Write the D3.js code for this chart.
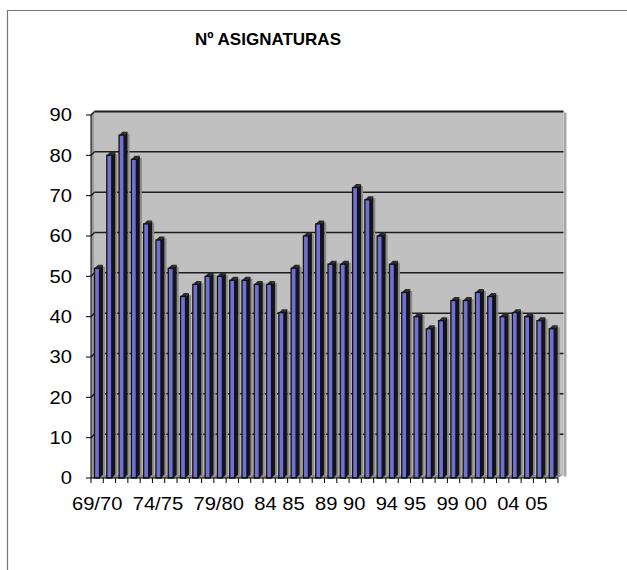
<!DOCTYPE html>
<html>
<head>
<meta charset="utf-8">
<script src="https://cdn.jsdelivr.net/npm/d3@7"></script>
<style>
  body { margin: 0; background: #fff; }
  text { font-family: "Liberation Sans", Arial, sans-serif; fill: #000; }
</style>
</head>
<body>
<div id="chart"></div>
<script>
var title = "Nº ASIGNATURAS";

var categories = [
    "69/70", "70/71", "71/72", "72/73", "73/74", "74/75", "75/76", "76/77",
    "77/78", "78/79", "79/80", "80/81", "81/82", "82/83", "83/84", "84 85",
    "85 86", "86 87", "87 88", "88 89", "89 90", "90 91", "91 92", "92 93",
    "93 94", "94 95", "95 96", "96 97", "97 98", "98 99", "99 00", "00 01",
    "01 02", "02 03", "03 04", "04 05", "05 06", "06 07"
];

var values = [
    52, 80, 85, 79, 63, 59, 52, 45, 48, 50, 50, 49, 49, 48, 48, 41,
    52, 60, 63, 53, 53, 72, 69, 60, 53, 46, 40, 37, 39, 44, 44, 46,
    45, 40, 41, 40, 39, 37
];

var yTicks = [0, 10, 20, 30, 40, 50, 60, 70, 80, 90];

var W = 627, H = 570;
var x0 = 91, x1 = 558;
var dx = 3.5, dy = -3.5;     // 3d depth offset
var stretch = 1.12;          // labels in the picture are a bit wide

var svg = d3.select("#chart").append("svg")
    .attr("width", W)
    .attr("height", H);

// frame of the chart object (left and top edges only visible)
svg.append("path")
    .attr("d", "M7.5,570 L7.5,10.5 L627,10.5")
    .attr("fill", "none")
    .attr("stroke", "#777")
    .attr("stroke-width", 1.2);

var x = d3.scaleBand()
    .domain(categories)
    .range([x0, x1])
    .padding(0);

var y = d3.scaleLinear()
    .domain([0, 90])
    .range([478, 115]);

var y0 = y(0), yTop = y(90);
var wallRight = x1 + dx + 2;

// walls
var walls = svg.append("g");
walls.append("rect")
    .attr("x", wallRight)
    .attr("y", yTop + dy + 1)
    .attr("width", 3)
    .attr("height", y0 - yTop + 1)
    .attr("fill", "#a8a8a8");
walls.append("rect")
    .attr("x", x0 + dx)
    .attr("y", yTop + dy)
    .attr("width", wallRight - x0 - dx)
    .attr("height", y0 - yTop)
    .attr("fill", "#c0c0c0");
walls.append("polygon")
    .attr("points", [[x0, yTop], [x0 + dx, yTop + dy], [x0 + dx, y0 + dy], [x0, y0]].join(" "))
    .attr("fill", "#9c9c9c");
walls.append("polygon")
    .attr("points", [[x0, y0], [x0 + dx, y0 + dy], [wallRight, y0 + dy], [x1, y0]].join(" "))
    .attr("fill", "#8c8c8c");

// gridlines
var grid = svg.append("g");
grid.selectAll("line.h")
    .data(yTicks.filter(function(d) { return d > 0; }))
    .enter().append("line")
    .attr("class", "h")
    .attr("x1", x0 + dx)
    .attr("x2", wallRight)
    .attr("y1", function(d) { return y(d) + dy; })
    .attr("y2", function(d) { return y(d) + dy; })
    .attr("stroke", "#1e1e1e")
    .attr("stroke-width", function(d) { return d == 90 ? 2.2 : 1.5; });
grid.selectAll("line.d")
    .data(yTicks.filter(function(d) { return d > 0; }))
    .enter().append("line")
    .attr("class", "d")
    .attr("x1", x0)
    .attr("x2", x0 + dx)
    .attr("y1", function(d) { return y(d); })
    .attr("y2", function(d) { return y(d) + dy; })
    .attr("stroke", "#1e1e1e")
    .attr("stroke-width", 1.5);

// bars
var bw = 5;
var bars = svg.append("g").selectAll("g")
    .data(values)
    .enter().append("g");

function bx(d, i) { return x(categories[i]) + 3.5; }

// soft shadow behind each bar
bars.append("rect")
    .attr("x", function(d, i) { return bx(d, i) + bw + dx; })
    .attr("y", function(d) { return y(d) + dy + 2; })
    .attr("width", 2)
    .attr("height", function(d) { return y0 - y(d) - 2; })
    .attr("fill", "#8a8a8a");
bars.append("polygon")
    .attr("points", function(d, i) {
        var l = bx(d, i) + bw, t = y(d);
        return [[l, t], [l + dx, t + dy], [l + dx, y0 + dy], [l, y0]].join(" ");
    })
    .attr("fill", "#151515");
bars.append("polygon")
    .attr("points", function(d, i) {
        var l = bx(d, i), t = y(d);
        return [[l, t], [l + dx, t + dy], [l + bw + dx, t + dy], [l + bw, t]].join(" ");
    })
    .attr("fill", "#2a2a2a");
bars.append("rect")
    .attr("x", bx)
    .attr("y", function(d) { return y(d); })
    .attr("width", bw)
    .attr("height", function(d) { return y0 - y(d); })
    .attr("fill", "#7070d4")
    .attr("stroke", "#111")
    .attr("stroke-width", 1.3);

// y axis
var yAxis = svg.append("g");
yAxis.append("line")
    .attr("x1", x0).attr("x2", x0)
    .attr("y1", yTop).attr("y2", y0)
    .attr("stroke", "#000");
yAxis.selectAll("line.t")
    .data(yTicks)
    .enter().append("line")
    .attr("class", "t")
    .attr("x1", x0 - 5).attr("x2", x0)
    .attr("y1", function(d) { return y(d); })
    .attr("y2", function(d) { return y(d); })
    .attr("stroke", "#000");
yAxis.selectAll("text")
    .data(yTicks)
    .enter().append("text")
    .attr("transform", function(d) {
        return "translate(72," + y(d) + ") scale(" + stretch + ",1)";
    })
    .attr("dy", "0.36em")
    .attr("text-anchor", "end")
    .attr("font-size", 18)
    .text(function(d) { return d; });

// x axis
var xAxis = svg.append("g");
xAxis.append("line")
    .attr("x1", x0).attr("x2", x1)
    .attr("y1", y0).attr("y2", y0)
    .attr("stroke", "#000");
xAxis.selectAll("line.t")
    .data(categories.concat(["end"]))
    .enter().append("line")
    .attr("class", "t")
    .attr("x1", function(d, i) { return x0 + i * x.bandwidth(); })
    .attr("x2", function(d, i) { return x0 + i * x.bandwidth(); })
    .attr("y1", y0)
    .attr("y2", y0 + 5)
    .attr("stroke", "#000");
xAxis.selectAll("text")
    .data(categories.filter(function(d, i) { return i % 5 == 0; }))
    .enter().append("text")
    .attr("transform", function(d, i) {
        var cx = x(d) + x.bandwidth() / 2 - i * 0.7;
        return "translate(" + cx + ",510) scale(" + stretch + ",1)";
    })
    .attr("text-anchor", "middle")
    .attr("font-size", 18)
    .text(function(d) { return d; });

// title
svg.append("text")
    .attr("x", 268)
    .attr("y", 45)
    .attr("text-anchor", "middle")
    .attr("font-size", 17)
    .attr("font-weight", "bold")
    .text(title);
</script>
</body>
</html>
